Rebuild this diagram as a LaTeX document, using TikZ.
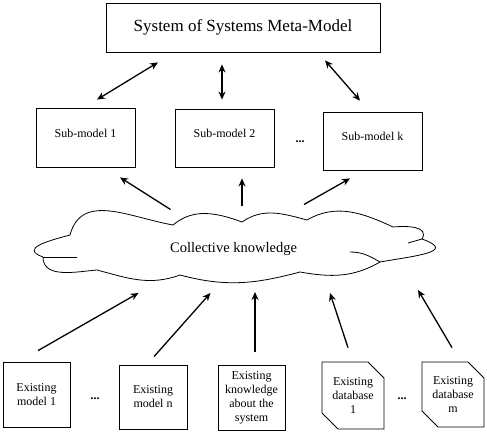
\documentclass[tikz,border=0pt]{standalone}
\usepackage{fontspec}
\setmainfont{Liberation Serif}
\usetikzlibrary{arrows.meta,shapes.misc}
\tikzset{
  box/.style={draw, line width=0.8pt, inner sep=0pt, align=center, font=\fontsize{12}{14}\selectfont},
  subbox/.style={box, minimum width=99, minimum height=58, text height=8.5pt, text depth=9pt},
  dbbox/.style={box, chamfered rectangle, chamfered rectangle corners={north east,south west}, chamfered rectangle xsep=8pt, chamfered rectangle ysep=8pt},
  dots/.style={font=\fontsize{12}{14}\selectfont\bfseries},
  link/.style={line width=1.3pt, -{Stealth[length=8pt,width=7pt]}},
  both/.style={line width=1.3pt, {Stealth[length=8pt,width=7pt]}-{Stealth[length=8pt,width=7pt]}}
}
\begin{document}
\begin{tikzpicture}[x=1pt,y=1pt]
    \useasboundingbox (0,0) rectangle (487,434);
    \node[box, minimum width=274, minimum height=49, font=\fontsize{17}{20}\selectfont] (meta) at (243,406.5) {System of Systems Meta-Model};
    \node[subbox, minimum height=59] (sub1) at (85.5,296.5) {Sub-model 1};
    \node[subbox] (sub2) at (224.5,296) {Sub-model 2};
    \node[subbox] (subk) at (372.5,293) {Sub-model k};
    \node[dots] (dk) at (300,292) {...};
    \node[minimum width=403, minimum height=67, inner sep=0pt, font=\fontsize{14.5}{17}\selectfont] (know) at (233.5,184.5) {Collective knowledge};
    \begin{scope}[shift={(know.center)}, line width=0.8pt]
        \draw (-190.5,-7.5) to[out=160, in=195, looseness=1.8] (-163.5,14.5)
            to[out=75, in=170, looseness=1.1] (-60.5,24.5)
            to[out=40, in=160] (8.5,27.5)
            to[out=35, in=165] (73.5,29.5)
            to[out=30, in=155] (159.5,22.5)
            to[out=5, in=60, looseness=1.2] (188.5,10.5)
            to[out=-20, in=10, looseness=2] (146.5,-12.5)
            to[out=210, in=-10] (66.5,-22.5)
            to[out=195, in=-15] (-53.5,-25.5)
            to[out=200, in=-15] (-136.5,-20.5)
            to[out=185, in=270] cycle;
        \draw (-190.5,-7.5) -- (-156.5,-7.5);
        \draw (188.5,10.5) -- (174.5,6.5);
        \draw (146.5,-12.5) to[out=150, in=0] (116.5,-2.5);
    \end{scope}
    \node[box, minimum width=67, minimum height=65] (em1) at (36.5,39.5) {Existing\\model 1};
    \node[dots] (dm) at (95,35) {...};
    \node[box, minimum width=68, minimum height=64] (emn) at (153,37) {Existing\\model n};
    \node[box, minimum width=67, minimum height=65] (ek) at (251.5,36.5) {Existing\\knowledge\\about the\\system};
    \node[dbbox, minimum width=62, minimum height=67] (db1) at (353,38.5) {Existing\\database\\1};
    \node[dots] (dd) at (402,35) {...};
    \node[dbbox, minimum width=62, minimum height=65] (dbm) at (453,39.5) {Existing\\database\\m};
    \draw[both] ([shift={(-85,-10)}]meta.south) -- ([shift={(11.5,8)}]sub1.north);
    \draw[both] ([shift={(-21,-12)}]meta.south) -- ([shift={(-2.5,9)}]sub2.north);
    \draw[both] ([shift={(82,-8)}]meta.south) -- ([shift={(-12.5,11)}]subk.north);
    \draw[link] ([shift={(-63,40)}]know.center) -- ([shift={(34.5,-10)}]sub1.south);
    \draw[link] ([shift={(8.5,43)}]know.center) -- ([shift={(17.5,-11)}]sub2.south);
    \draw[link] ([shift={(70.5,45)}]know.center) -- ([shift={(-22.5,-8)}]subk.south);
    \draw[link] ([shift={(1.5,11)}]em1.north) -- ([shift={(-95,-43.5)}]know.center);
    \draw[link] ([shift={(1,8)}]emn.north) -- ([shift={(-23,-43.5)}]know.center);
    \draw[link] ([shift={(3.5,13)}]ek.north) -- ([shift={(21.5,-42.5)}]know.center);
    \draw[link] ([shift={(-5,14)}]db1.north) -- ([shift={(96.5,-43.5)}]know.center);
    \draw[link] ([shift={(-1,14)}]dbm.north) -- ([shift={(184.5,-40.5)}]know.center);
\end{tikzpicture}
\end{document}
